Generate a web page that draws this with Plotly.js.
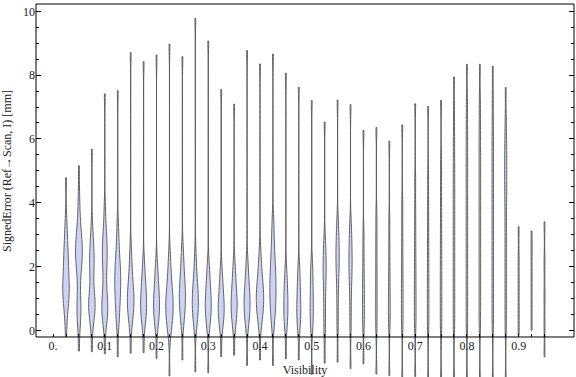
<!DOCTYPE html>
<html><head><meta charset="utf-8">
<script src="https://cdn.plot.ly/plotly-3.0.1.min.js"></script>
<style>html,body{margin:0;padding:0;background:#fff}#chart{width:576px;height:377px}</style>
</head><body><div id="chart"></div>
<script>
// Visibility bins (category centres)
const visibility = [0.025,0.05,0.075,0.1,0.125,0.15,0.175,0.2,0.225,0.25,0.275,0.3,0.325,0.35,0.375,0.4,0.425,0.45,0.475,0.5,0.525,0.55,0.575,0.6,0.625,0.65,0.675,0.7,0.725,0.75,0.775,0.8,0.825,0.85,0.875,0.9,0.925,0.95];

// Signed error samples per bin
const signedError = [
 [-0.2,0.35,0.6,0.8,0.95,1.05,1.15,1.25,1.35,1.45,1.55,1.68,1.83,2.0,2.15,2.3,2.45,2.62,2.85,3.15,3.5,4.78],
 [-0.65,0.05,0.3,0.5,0.65,0.8,0.97,1.25,1.55,1.8,1.97,2.1,2.2,2.3,2.4,2.5,2.6,2.7,2.8,2.92,3.05,3.25,3.5,3.85,4.3,5.16],
 [-0.67,0.1,0.35,0.5,0.6,0.7,0.78,0.86,0.95,1.05,1.2,1.45,1.7,1.9,2.05,2.2,2.35,2.5,2.68,2.9,3.3,5.68],
 [-0.74,0.1,0.3,0.45,0.55,0.65,0.75,0.85,0.95,1.1,1.3,1.55,1.8,2.0,2.15,2.3,2.45,2.6,2.75,2.9,3.1,3.4,3.9,7.41],
 [-0.83,0.1,0.35,0.55,0.75,0.9,1.05,1.2,1.32,1.44,1.56,1.68,1.8,1.92,2.05,2.2,2.4,2.65,2.95,3.35,7.51],
 [-0.72,0.1,0.35,0.5,0.62,0.72,0.82,0.92,1.02,1.12,1.23,1.36,1.5,1.68,1.9,2.2,2.6,8.71],
 [-0.7,0.1,0.3,0.45,0.57,0.68,0.79,0.9,1.01,1.13,1.27,1.43,1.62,1.85,2.2,8.42],
 [-0.88,0.05,0.28,0.42,0.54,0.65,0.76,0.87,0.98,1.1,1.24,1.4,1.6,1.85,2.15,8.63],
 [-1.43,-0.2,0.05,0.2,0.32,0.42,0.52,0.61,0.7,0.79,0.88,0.97,1.07,1.18,1.3,1.45,1.62,1.85,2.1,2.45,8.97],
 [-0.93,0.1,0.35,0.52,0.66,0.78,0.9,1.01,1.12,1.23,1.35,1.48,1.62,1.8,2.02,2.3,2.65,8.58],
 [-1.3,0.0,0.25,0.42,0.55,0.66,0.77,0.88,0.99,1.1,1.22,1.36,1.52,1.72,2.0,2.45,9.78],
 [-1.33,0.0,0.25,0.4,0.52,0.63,0.74,0.85,0.96,1.08,1.22,1.38,1.58,1.82,2.1,9.07],
 [-0.83,0.05,0.25,0.38,0.49,0.59,0.69,0.8,0.92,1.06,1.22,1.42,1.65,1.95,7.55],
 [-0.78,0.05,0.28,0.42,0.54,0.65,0.76,0.87,0.98,1.1,1.24,1.4,1.6,1.85,2.15,7.09],
 [-1.1,0.05,0.3,0.45,0.57,0.68,0.79,0.9,1.01,1.13,1.27,1.43,1.62,1.88,2.2,8.77],
 [-0.93,0.05,0.3,0.45,0.57,0.67,0.77,0.86,0.95,1.04,1.13,1.22,1.32,1.43,1.56,1.72,1.92,2.15,2.5,8.35],
 [-1.1,0.05,0.3,0.5,0.65,0.78,0.9,1.02,1.14,1.26,1.38,1.5,1.62,1.75,1.88,2.02,2.18,2.36,2.58,2.85,3.15,3.5,8.66],
 [-0.89,0.05,0.28,0.46,0.63,0.8,0.97,1.15,1.35,1.6,1.95,8.06],
 [-0.93,0.02,0.25,0.43,0.6,0.77,0.95,1.15,1.4,1.7,2.0,7.62],
 [-1.38,0.0,0.28,0.5,0.72,0.95,1.2,1.48,1.8,2.1,7.2],
 [-1.03,-0.15,0.3,0.75,1.2,1.55,1.8,2.02,2.25,2.5,2.9,6.53],
 [-1.0,0.05,0.6,1.15,1.6,1.9,2.12,2.33,2.55,2.78,3.05,3.45,7.22],
 [-1.2,0.0,0.55,1.1,1.5,1.78,2.0,2.22,2.45,2.7,3.0,3.35,7.08],
 [-1.05,0.1,0.5,0.9,1.3,1.75,2.3,3.0,6.27],
 [-1.37,0.0,0.55,1.1,1.65,2.25,2.9,3.6,6.36],
 [-1.42,0.1,0.5,0.9,1.35,1.9,2.6,3.4,5.93],
 [-1.6,0.05,0.5,0.95,1.4,1.9,2.5,3.2,4.0,6.44],
 [-1.45,0.05,0.5,0.95,1.4,1.9,2.45,3.1,3.8,4.7,7.1],
 [-1.6,0.0,0.5,1.0,1.5,2.05,2.65,3.3,4.0,4.9,7.02],
 [-1.6,0.0,0.5,1.0,1.5,2.0,2.55,3.15,3.8,4.5,5.3,7.21],
 [-1.6,0.0,0.5,1.0,1.5,2.0,2.5,3.0,3.5,4.0,4.5,5.0,5.55,6.15,6.9,7.94],
 [-1.6,0.0,0.5,1.0,1.5,2.0,2.5,3.0,3.5,4.0,4.5,5.0,5.5,6.0,6.55,7.2,8.34],
 [-1.6,0.05,0.55,1.05,1.55,2.05,2.55,3.05,3.55,4.05,4.55,5.05,5.55,6.05,6.6,7.25,8.34],
 [-1.6,0.0,0.5,1.0,1.5,2.0,2.5,3.0,3.5,4.0,4.5,5.0,5.5,6.0,6.6,7.3,8.28],
 [-1.6,0.0,0.55,1.1,1.65,2.2,2.75,3.3,3.8,4.25,4.6,4.95,5.3,5.65,6.05,6.6,7.61],
 [-0.15,0.6,1.4,2.2,3.25],
 [0.0,0.8,1.6,2.4,3.11],
 [-0.83,0.2,1.1,2.1,3.4]
];

const xTickValues = [0,0.1,0.2,0.3,0.4,0.5,0.6,0.7,0.8,0.9];
const xTickLabels = ["0.","0.1","0.2","0.3","0.4","0.5","0.6","0.7","0.8","0.9"];
const yTickValues = [0,2,4,6,8,10];
const yTickLabels = ["0","2","4","6","8","10"];
const xTitle = "Visibility";
const yTitle = "SignedError (Ref\u2192Scan, I) [mm]";

// ---- build ----
const xs = [], ys = [];
visibility.forEach((v, i) => signedError[i].forEach(e => { xs.push(v); ys.push(e); }));

const xRange = [-0.033, 1.007];
const yRange = [-1.464, 10.229];
const frameBottom = -0.21;
const axisPos = (frameBottom - yRange[0]) / (yRange[1] - yRange[0]);

const allXTicks = [0].concat(visibility);
const allXText = allXTicks.map(t => {
  const k = xTickValues.findIndex(v => Math.abs(v - t) < 1e-9);
  return k >= 0 ? xTickLabels[k] : '';
});
const minorY = [];
for (let k = 1; k <= 20; k++) { const v = k * 0.5; if (Math.abs(v / 2 - Math.round(v / 2)) > 1e-9) minorY.push(v); }

const font = {family: 'Liberation Serif, Times New Roman, serif', size: 12, color: '#222'};

const traces = [{
  type: 'violin', x: xs, y: ys, orientation: 'v',
  points: false, box: {visible: false}, meanline: {visible: false},
  spanmode: 'hard', bandwidth: 0.35, scalemode: 'count', side: 'both',
  fillcolor: 'rgb(205,211,245)', line: {color: 'rgb(85,85,85)', width: 0.9},
  hoverinfo: 'skip', showlegend: false
}];

const layout = {
  width: 576, height: 377,
  margin: {l: 36, r: 2, t: 4, b: 0},
  paper_bgcolor: '#fff', plot_bgcolor: '#fff',
  showlegend: false, font: font,
  violinmode: 'overlay', violingap: 0.2, violingroupgap: 0,
  xaxis: {
    range: xRange, anchor: 'free', position: axisPos,
    tickmode: 'array', tickvals: allXTicks, ticktext: allXText,
    ticks: 'inside', ticklen: 3, tickcolor: '#000', tickwidth: 1,
    showline: false, showgrid: false, zeroline: false, automargin: false,
    tickfont: font,
    title: {text: xTitle, font: font, standoff: 14}
  },
  xaxis2: {
    range: xRange, overlaying: 'x', anchor: 'y', side: 'top',
    tickmode: 'array', tickvals: allXTicks, showticklabels: false,
    ticks: 'inside', ticklen: 4, tickcolor: '#000', tickwidth: 1,
    showline: false, showgrid: false, zeroline: false
  },
  yaxis: {
    range: yRange, tickmode: 'array', tickvals: yTickValues, ticktext: yTickLabels,
    ticks: 'inside', ticklen: 5, tickcolor: '#000', tickwidth: 1, mirror: 'ticks',
    minor: {tickmode: 'array', tickvals: minorY, ticks: 'inside', ticklen: 3, tickcolor: '#000', tickwidth: 1, showgrid: false},
    showline: false, showgrid: false, zeroline: false, automargin: false,
    tickfont: font
  },
  shapes: [{type: 'rect', xref: 'paper', yref: 'paper', x0: 0, x1: 1, y0: axisPos, y1: 1,
            line: {color: '#000', width: 1}, layer: 'above'}],
  annotations: [{text: yTitle, xref: 'paper', yref: 'paper', x: -0.053, y: (axisPos + 1) / 2,
                 xanchor: 'center', yanchor: 'middle', textangle: -90, showarrow: false, font: font}]
};

Plotly.newPlot('chart', traces, layout, {displayModeBar: false, staticPlot: true});
</script>
</body></html>
